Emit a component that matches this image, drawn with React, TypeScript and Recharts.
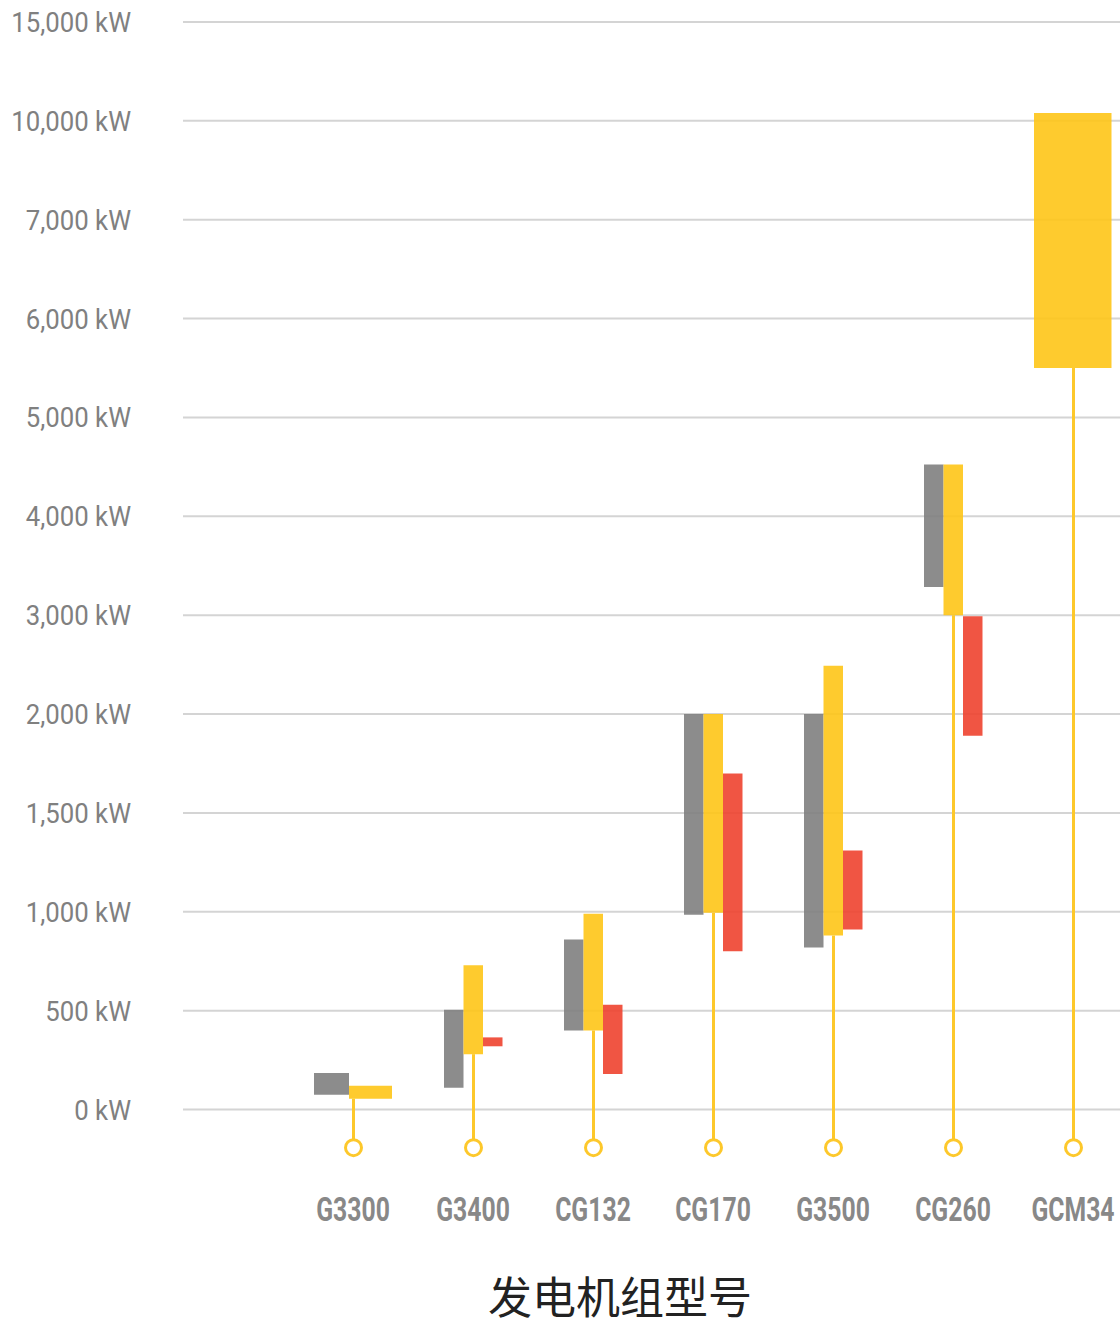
import React from 'react';
import { ComposedChart, Bar, XAxis, YAxis, CartesianGrid } from 'recharts';

// ---- data (kW) ----
const MODELS = ['G3300', 'G3400', 'CG132', 'CG170', 'G3500', 'CG260', 'GCM34'];
const TICK_KW = [0, 500, 1000, 1500, 2000, 3000, 4000, 5000, 6000, 7000, 10000, 15000];
const GRAY_LOW: (number | null)[] = [75, 110, 400, 985, 820, 3285, null];
const GRAY_HIGH: (number | null)[] = [185, 505, 860, 2000, 2000, 4525, null];
const YELLOW_LOW: number[] = [55, 280, 400, 995, 880, 3000, 5500];
const YELLOW_HIGH: number[] = [120, 730, 990, 2000, 2490, 4525, 10400];
const RED_LOW: (number | null)[] = [null, 320, 180, 800, 910, 1890, null];
const RED_HIGH: (number | null)[] = [null, 365, 530, 1700, 1310, 2990, null];

// ---- styles ----
const GRAY = '#808080';
const YELLOW = '#fec517';
const RED = '#ee432f';
const STEM = '#fdc82b';
const MARKER_IDX = -0.385;
const PAD = { left: 110, right: 7 };

// piecewise-linear mapping of kW onto the evenly spaced tick index scale
const toIdx = (kw: number): number => {
  for (let i = 0; i < TICK_KW.length - 1; i++) {
    const a = TICK_KW[i];
    const b = TICK_KW[i + 1];
    if (kw <= b) return i + (kw - a) / (b - a);
  }
  return TICK_KW.length - 1;
};

const rows = MODELS.map((name, i) => {
  const g = GRAY_LOW[i] != null ? [toIdx(GRAY_LOW[i] as number), toIdx(GRAY_HIGH[i] as number)] : null;
  const y = [toIdx(YELLOW_LOW[i]), toIdx(YELLOW_HIGH[i])];
  const r = RED_LOW[i] != null ? [toIdx(RED_LOW[i] as number), toIdx(RED_HIGH[i] as number)] : null;
  const count = (g ? 1 : 0) + 1 + (r ? 1 : 0);
  return {
    name,
    gray3: count === 3 ? g : null,
    yellow3: count === 3 ? y : null,
    red3: count === 3 ? r : null,
    gray2: count === 2 ? g : null,
    yellow2: count === 2 ? y : null,
    yellow1: count === 1 ? y : null,
    stem: [MARKER_IDX, y[0]],
  };
});

const StemShape = (props: any) => {
  const { x, y, width, height } = props;
  if (x == null || y == null) return null;
  const top = Math.min(y, y + height);
  const bottom = Math.max(y, y + height);
  return (
    <g>
      <rect x={x} y={top} width={width} height={bottom - top} fill={STEM} />
      <circle cx={x + width / 2} cy={bottom} r={8} fill="#ffffff" stroke={STEM} strokeWidth={3} />
    </g>
  );
};

const XTick = (props: any) => {
  const { x, y, payload } = props;
  return (
    <text
      transform={`translate(${x},${y}) scale(0.75,1)`}
      textAnchor="middle"
      dy="0.71em"
      fontSize={33}
      fontWeight={700}
      fill="#888888"
      fontFamily="Roboto, sans-serif"
    >
      {payload.value}
    </text>
  );
};

const YTick = (props: any) => {
  const { x, y, payload } = props;
  const kw = TICK_KW[payload.value];
  return (
    <text
      transform={`translate(${x},${y}) scale(0.92,1)`}
      textAnchor="end"
      dy="0.355em"
      fontSize={28}
      fill="#808080"
      fontFamily="Roboto, sans-serif"
    >
      {`${kw.toLocaleString('en-US')} kW`}
    </text>
  );
};

const yTicks = TICK_KW.map((_, i) => i);

export default function App() {
  return (
    <div style={{ position: 'absolute', left: 0, top: 0, width: 1120, height: 1323, overflow: 'hidden', background: '#fff' }}>
      <ComposedChart
        width={1140}
        height={1249}
        data={rows}
        margin={{ top: 22, right: 0, bottom: 0, left: 0 }}
        barGap={0}
      >
        <CartesianGrid
          horizontal
          vertical={false}
          stroke="#d4d4d4"
          strokeWidth={2}
          xAxisId="main"
          horizontalValues={yTicks}
        />
        <XAxis
          xAxisId="main"
          dataKey="name"
          type="category"
          padding={PAD}
          height={90}
          axisLine={false}
          tickLine={false}
          tickSize={0}
          tickMargin={39}
          interval={0}
          tick={XTick}
        />
        <XAxis xAxisId="pair" dataKey="name" type="category" padding={PAD} hide />
        <XAxis xAxisId="wide" dataKey="name" type="category" padding={PAD} hide />
        <XAxis xAxisId="stem" dataKey="name" type="category" padding={PAD} hide />
        <YAxis
          type="number"
          domain={[-0.5, TICK_KW.length - 1]}
          ticks={yTicks}
          interval={0}
          width={183}
          axisLine={false}
          tickLine={false}
          tickSize={0}
          tickMargin={52}
          tick={YTick}
        />
        <Bar xAxisId="stem" dataKey="stem" barSize={3} shape={StemShape} isAnimationActive={false} />
        <Bar xAxisId="main" dataKey="gray3" barSize={19.5} fill={GRAY} fillOpacity={0.9} isAnimationActive={false} />
        <Bar xAxisId="main" dataKey="yellow3" barSize={19.5} fill={YELLOW} fillOpacity={0.9} isAnimationActive={false} />
        <Bar xAxisId="main" dataKey="red3" barSize={19.5} fill={RED} fillOpacity={0.9} isAnimationActive={false} />
        <Bar xAxisId="pair" dataKey="gray2" barSize={35} fill={GRAY} fillOpacity={0.9} isAnimationActive={false} />
        <Bar xAxisId="pair" dataKey="yellow2" barSize={43} fill={YELLOW} fillOpacity={0.9} isAnimationActive={false} />
        <Bar xAxisId="wide" dataKey="yellow1" barSize={77.5} fill={YELLOW} fillOpacity={0.9} isAnimationActive={false} />
      </ComposedChart>
      <div
        style={{
          position: 'absolute',
          left: 420,
          top: 1273,
          width: 400,
          height: 44,
          lineHeight: '44px',
          textAlign: 'center',
          fontSize: 44,
          color: '#222222',
          fontFamily: '"Noto Sans CJK SC", sans-serif',
        }}
      >
        发电机组型号
      </div>
    </div>
  );
}
